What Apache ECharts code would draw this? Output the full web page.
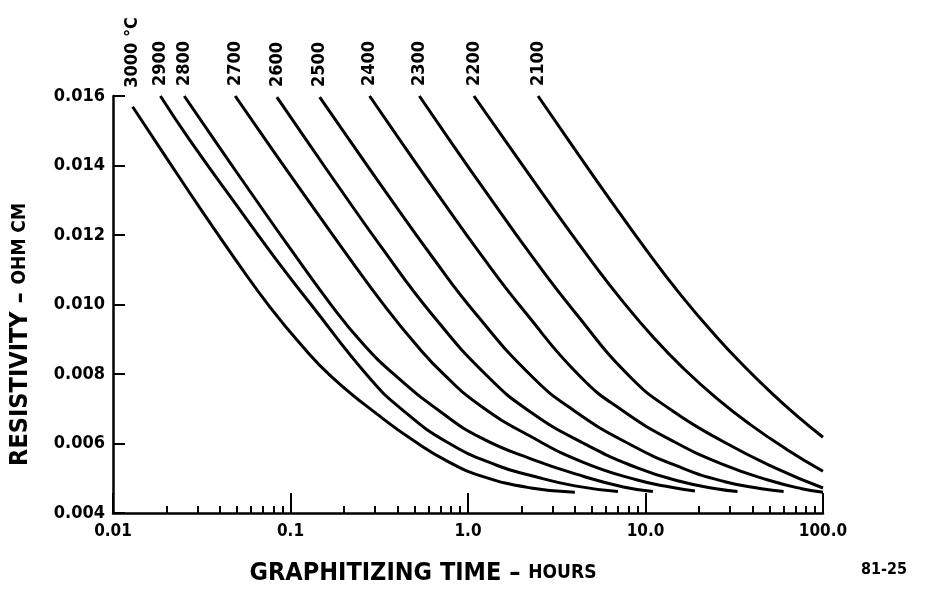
<!DOCTYPE html>
<html><head><meta charset="utf-8">
<script src="https://cdn.jsdelivr.net/npm/echarts@6/dist/echarts.min.js"></script>
<style>html,body{margin:0;padding:0;background:#fff}#c{width:936px;height:591px}</style>
</head><body><div id="c"></div>
<script>
// Temperatures (deg C) labelled at the top of each curve
const temperatures = ['3000', '2900', '2800', '2700', '2600', '2500', '2400', '2300', '2200', '2100'];
// Curves: [graphitizing time (hours), resistivity (ohm cm)]
const curve3000 = [[0.0129,0.01569],[0.0200,0.01422],[0.0316,0.01270],[0.0501,0.01122],[0.0755,0.00997],[0.1122,0.00890],[0.1706,0.00792],[0.325,0.00675],[0.498,0.00607],[0.773,0.00548],[1.18,0.00507],[2.26,0.00472],[4.0,0.00460]];
const curve2900 = [[0.0185,0.01600],[0.0269,0.01475],[0.0468,0.01304],[0.0817,0.01134],[0.1318,0.00997],[0.275,0.00792],[0.422,0.00699],[0.773,0.00602],[1.476,0.00536],[2.26,0.00508],[4.0,0.00478],[7.0,0.00462]];
const curve2800 = [[0.0252,0.01600],[0.0398,0.01452],[0.0631,0.01305],[0.100,0.01160],[0.1706,0.00997],[0.251,0.00892],[0.385,0.00798],[0.706,0.00690],[1.186,0.00616],[2.26,0.00556],[4.5,0.00505],[7.5,0.00475],[11.0,0.00462]];
const curve2700 = [[0.0488,0.01600],[0.0794,0.01444],[0.126,0.01299],[0.1995,0.01156],[0.338,0.00997],[0.501,0.00889],[0.734,0.00798],[1.186,0.00707],[2.26,0.00620],[4.5,0.00545],[9.0,0.00495],[14.0,0.00474],[19.0,0.00463]];
const curve2600 = [[0.0838,0.01597],[0.126,0.01465],[0.1995,0.01318],[0.316,0.01174],[0.619,0.00975],[1.297,0.00792],[2.26,0.00690],[4.5,0.00600],[9.0,0.00530],[16.0,0.00490],[25.0,0.00470],[33.0,0.00462]];
const curve2500 = [[0.146,0.01597],[0.224,0.01460],[0.355,0.01314],[0.631,0.01136],[1.10,0.00975],[2.30,0.00792],[4.0,0.00693],[8.0,0.00600],[16.0,0.00530],[28.0,0.00490],[45.0,0.00470],[60.0,0.00462]];
const curve2400 = [[0.279,0.01600],[0.427,0.01463],[0.676,0.01317],[1.20,0.01139],[2.09,0.00979],[4.30,0.00792],[7.41,0.00695],[14.5,0.00605],[28.2,0.00537],[49.0,0.00495],[75.9,0.00470],[100,0.00460]];
const curve2300 = [[0.532,0.01600],[0.813,0.01463],[1.29,0.01317],[2.29,0.01139],[3.98,0.00979],[8.18,0.00792],[14.1,0.00695],[27.5,0.00605],[53.7,0.00530],[100,0.00472]];
const curve2200 = [[1.08,0.01600],[1.78,0.01442],[3.16,0.01262],[5.01,0.01122],[7.23,0.01017],[11.1,0.00905],[16.3,0.00817],[25.3,0.00729],[38.8,0.00655],[62.5,0.00583],[100,0.00520]];
const curve2100 = [[2.48,0.01600],[3.98,0.01448],[6.31,0.01302],[10.0,0.01160],[15.7,0.01029],[25.3,0.00905],[35.4,0.00826],[52.1,0.00742],[70.8,0.00681],[100,0.00618]];
const curves = [curve3000, curve2900, curve2800, curve2700, curve2600, curve2500, curve2400, curve2300, curve2200, curve2100];

// Axis ticks / labels
const xDecadeLabels = ['0.01', '0.1', '1.0', '10.0', '100.0'];
const xMinorTicks = [0.02,0.03,0.04,0.05,0.06,0.07,0.08,0.09, 0.2,0.3,0.4,0.5,0.6,0.7,0.8,0.9, 2,3,4,5,6,7,8,9, 20,30,40,50,60,70,80,90];
const yMin = 0.004, yMax = 0.016, yStep = 0.002;

const FONT = "'DejaVu Sans Condensed', 'Liberation Sans Narrow', 'DejaVu Sans', sans-serif";

const series = curves.map((pts, i) => ({
  type: 'line',
  name: temperatures[i],
  smooth: 0.5,
  symbol: 'circle',
  symbolSize: 0.1,
  silent: true,
  itemStyle: { color: '#000' },
  lineStyle: { color: '#000', width: 3 },
  emphasis: { disabled: true },
  data: pts.map((p, j) => j === 0 ? {
    value: p,
    label: {
      show: true,
      formatter: i === 0 ? temperatures[i] + ' °C' : temperatures[i],
      position: 'top',
      distance: i === 0 ? 24 : 13,
      rotate: 90,
      align: 'left',
      verticalAlign: 'middle',
      offset: [i === 0 ? -5 : -3, 0],
      color: '#000',
      fontFamily: FONT,
      fontWeight: 'bold',
      fontSize: 18
    }
  } : { value: p })
}));

const chart = echarts.init(document.getElementById('c'), null, { renderer: 'canvas' });
chart.setOption({
  animation: false,
  backgroundColor: '#fff',
  title: {
    text: '81-25', right: 24, bottom: 8,
    textStyle: { fontFamily: FONT, fontWeight: 'bold', fontSize: 16, color: '#000' }
  },
  grid: { left: 110, right: 113, top: 96, bottom: 73 },
  xAxis: [{
    type: 'log', logBase: 10, min: 0.01, max: 100,
    name: '{a|GRAPHITIZING TIME – }{b|HOURS}',
    nameLocation: 'middle', nameGap: 48,
    nameTextStyle: {
      padding: [0, 90, 0, 0],
      rich: {
        a: { fontFamily: FONT, fontWeight: 'bold', fontSize: 25, color: '#000' },
        b: { fontFamily: FONT, fontWeight: 'bold', fontSize: 19, color: '#000' }
      }
    },
    axisLine: { show: true, lineStyle: { color: '#000', width: 2.5 } },
    axisTick: { show: true, inside: true, length: 20, lineStyle: { color: '#000', width: 2 } },
    axisLabel: {
      margin: 10, color: '#000', fontFamily: FONT, fontWeight: 'bold', fontSize: 17,
      formatter: v => xDecadeLabels[Math.round(Math.log10(v)) + 2]
    },
    splitLine: { show: false }
  }, {
    type: 'log', logBase: 10, min: 0.01, max: 100, position: 'bottom',
    axisLine: { show: false },
    axisTick: { show: true, inside: true, length: 7, customValues: xMinorTicks, lineStyle: { color: '#000', width: 2 } },
    axisLabel: { show: false },
    splitLine: { show: false }
  }],
  yAxis: {
    type: 'value', min: yMin, max: yMax, interval: yStep,
    name: '{a|RESISTIVITY – }{b|OHM CM}',
    nameLocation: 'middle', nameGap: 80, nameRotate: 90,
    nameTextStyle: {
      padding: [0, 60, 0, 0],
      rich: {
        a: { fontFamily: FONT, fontWeight: 'bold', fontSize: 25, color: '#000' },
        b: { fontFamily: FONT, fontWeight: 'bold', fontSize: 19, color: '#000' }
      }
    },
    axisLine: { show: true, lineStyle: { color: '#000', width: 2.5 } },
    axisTick: { show: true, inside: true, length: 12, lineStyle: { color: '#000', width: 2 } },
    axisLabel: {
      margin: 8, color: '#000', fontFamily: FONT, fontWeight: 'bold', fontSize: 18,
      formatter: v => v.toFixed(3)
    },
    splitLine: { show: false }
  },
  series: series
});
</script></body></html>
